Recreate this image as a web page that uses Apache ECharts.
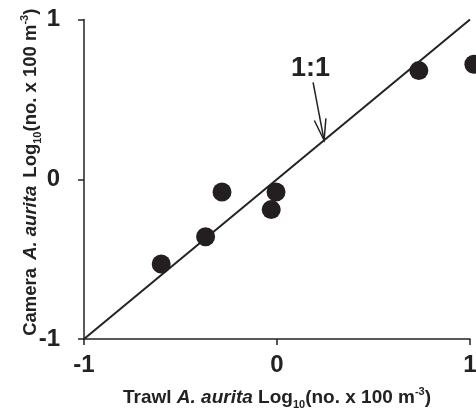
<!DOCTYPE html>
<html>
<head>
<meta charset="utf-8">
<script src="https://cdn.jsdelivr.net/npm/echarts@6/dist/echarts.min.js"></script>
<style>
  html, body { margin: 0; padding: 0; background: #fff; }
  #main { width: 476px; height: 410px; }
</style>
</head>
<body>
<div id="main"></div>
<script>
// 数据
const trawl = [-0.6, -0.37, -0.285, -0.005, -0.03, 0.735, 1.02];
const camera = [-0.53, -0.36, -0.08, -0.08, -0.19, 0.68, 0.72];
const oneToOne = [[-1, -1], [1, 1]];
const tickValues = [-1, 0, 1];
// 1:1 标注箭头 (起点, 终点) 与文字位置
const arrowFrom = [0.187, 0.606];
const arrowTo = [0.244, 0.244];
const labelPos = [0.174, 0.69];
const labelText = "1:1";

const ink = "#222";
const font = "Liberation Sans";

const myChart = echarts.init(document.querySelector("#main"));

// 坐标轴标题的富文本样式 (下标 / 上标)
function nameRich(size, gap) {
  const base = { fontFamily: font, fontWeight: "bold", fontSize: size, lineHeight: 24, color: ink };
  return {
    b: base,
    i: Object.assign({}, base, { fontStyle: "italic" }),
    bg: Object.assign({}, base, { padding: [0, gap, 0, 0] }),
    ig: Object.assign({}, base, { fontStyle: "italic", padding: [0, gap, 0, 0] }),
    sub: { fontFamily: font, fontWeight: "bold", fontSize: 11, lineHeight: 11, verticalAlign: "bottom", color: ink },
    sup: { fontFamily: font, fontWeight: "bold", fontSize: 11, lineHeight: 11, verticalAlign: "top", color: ink },
  };
}

function axisCommon() {
  return {
    type: "value",
    min: -1,
    max: 1,
    interval: 1,
    splitLine: { show: false },
    axisLine: { show: true, onZero: false, lineStyle: { color: ink, width: 1.5 } },
    axisTick: { show: true, length: 6, lineStyle: { color: ink, width: 1.5 } },
    nameLocation: "middle",
    nameMoveOverlap: false,
  };
}

// 箭头与 "1:1" 文字
function renderArrow(params, api) {
  const p0 = api.coord(arrowFrom);
  const p1 = api.coord(arrowTo);
  const pt = api.coord(labelPos);
  const ang = Math.atan2(p0[1] - p1[1], p0[0] - p1[0]);
  const len = 22;
  const spread = 0.27;
  const a = [p1[0] + len * Math.cos(ang - spread), p1[1] + len * Math.sin(ang - spread)];
  const b = [p1[0] + len * Math.cos(ang + spread), p1[1] + len * Math.sin(ang + spread)];
  const style = { stroke: ink, lineWidth: 1.5, fill: null };
  return {
    type: "group",
    children: [
      { type: "line", shape: { x1: p0[0], y1: p0[1], x2: p1[0], y2: p1[1] }, style },
      { type: "polyline", shape: { points: [a, p1, b] }, style },
      {
        type: "text",
        x: pt[0],
        y: pt[1],
        style: {
          text: labelText,
          fill: ink,
          font: "bold 27px '" + font + "'",
          align: "center",
          verticalAlign: "middle",
        },
      },
    ],
  };
}

const option = {
  animation: false,
  backgroundColor: "#fff",
  grid: { left: 84, right: 6, top: 19.5, bottom: 71, containLabel: false, outerBoundsMode: "none" },
  xAxis: Object.assign(axisCommon(), {
    name: "{b|Trawl }{i|A. aurita}{b| Log}{sub|10}{b|(no. x 100 m}{sup|-3}{b|)}",
    nameGap: 47,
    nameTextStyle: { rich: nameRich(19, 0) },
    axisLabel: {
      fontFamily: font, fontWeight: "bold", fontSize: 24, color: ink, margin: 14,
      formatter: (v) => (tickValues.includes(v) ? String(v) : ""),
    },
  }),
  yAxis: Object.assign(axisCommon(), {
    name: "{bg|Camera }{ig|A. aurita}{b| Log}{sub|10}{b|(no. x 100 m}{sup|-3}{b|)}",
    nameGap: 41,
    nameTextStyle: { rich: nameRich(18.5, 3), padding: [0, 0, 0, 14] },
    axisLabel: {
      fontFamily: font, fontWeight: "bold", fontSize: 24, color: ink, margin: 24,
      formatter: (v) => (tickValues.includes(v) ? String(v) : ""),
    },
  }),
  series: [
    {
      type: "line",
      data: oneToOne,
      symbol: "none",
      lineStyle: { color: ink, width: 2 },
      z: 2,
    },
    {
      type: "scatter",
      data: trawl.map((x, i) => [x, camera[i]]),
      symbolSize: 19,
      clip: false,
      itemStyle: { color: "#231f20", opacity: 1 },
      z: 3,
    },
    {
      type: "custom",
      data: [[arrowTo[0], arrowTo[1]]],
      renderItem: renderArrow,
      clip: false,
      silent: true,
      z: 4,
    },
  ],
};
myChart.setOption(option);
</script>
</body>
</html>
